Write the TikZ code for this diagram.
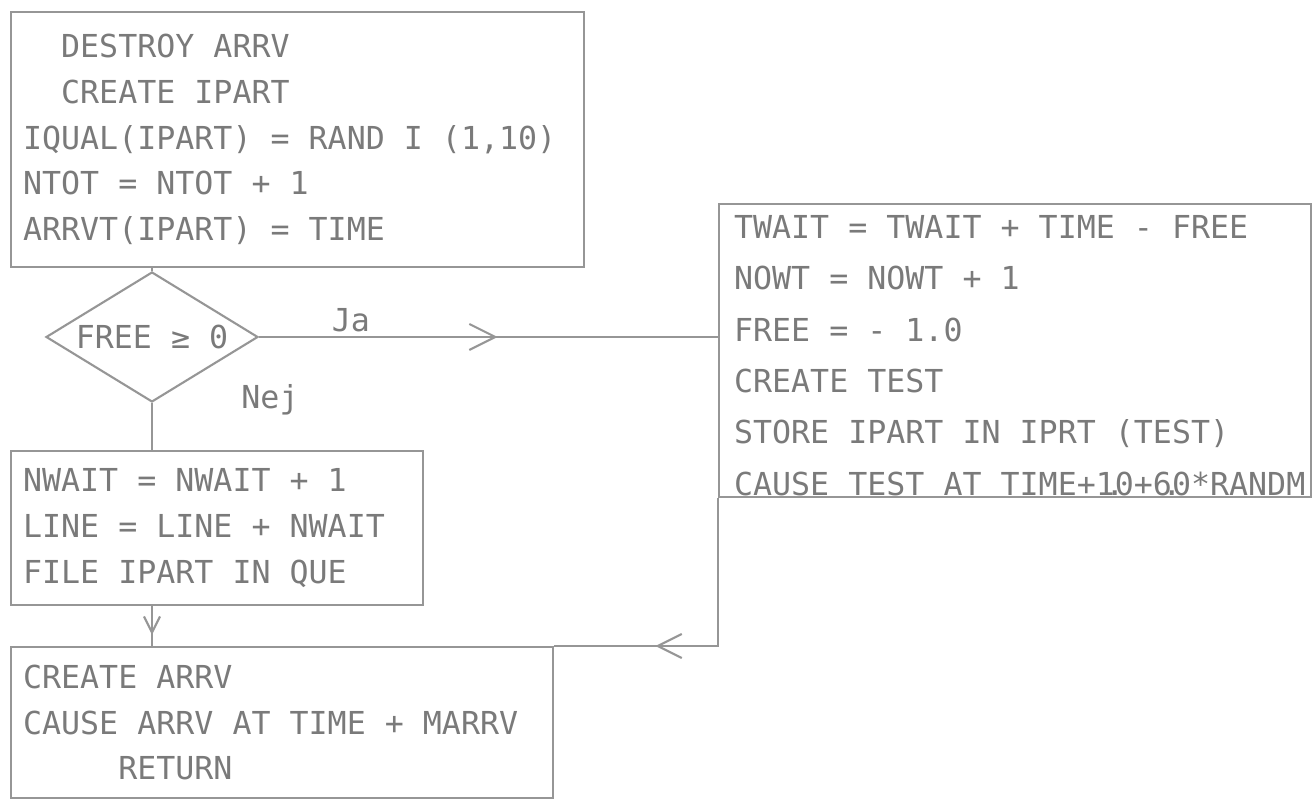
\documentclass[tikz,border=0pt]{standalone}
\usepackage{fontspec,tikz}
\usetikzlibrary{arrows.meta,positioning,shapes.geometric,decorations.markings}
\setmonofont{DejaVu Sans Mono}
\definecolor{Pencil}{HTML}{969696}
\definecolor{Ink}{HTML}{7A7A7A}
\newcommand{\typed}[1]{\ttfamily\fontsize{9}{#1}\selectfont}
\begin{document}
\begin{tikzpicture}[
 block/.style={draw=Pencil,line width=0.6pt,anchor=north west,align=flush left,inner xsep=0.12cm,inner ysep=0pt,text=Ink,font=\typed{13},execute at begin node={\spaceskip=0.602em\xspaceskip=0.602em\relax}},
 decision/.style={diamond,aspect=1.63,draw=Pencil,line width=0.6pt,inner sep=0pt,minimum width=2.12cm,minimum height=1.30cm,text=Ink,font=\typed{13}},
 tag/.style={text=Ink,inner sep=1pt,font=\typed{13}},
 flow/.style={draw=Pencil,line width=0.6pt},
 midarrow/.style 2 args={postaction={decorate},decoration={markings,mark=at position #1 with {\arrow{Straight Barb[length=#2,width=#2,line width=0.6pt,color=Pencil]}}}}]
 \useasboundingbox (0,0) rectangle (13.15,-8.12);
 \node[block,text width=5.49cm,minimum height=2.55cm](destroy) at (0.10,-0.11){\hphantom{XX}DESTROY ARRV\\\hphantom{XX}CREATE IPART\\IQUAL(IPART) = RAND I (1,10)\\NTOT = NTOT + 1\\ARRVT(IPART) = TIME};
 \node[decision](free) at (1.52,-3.37){FREE ≥ 0};
 \node[block,inner xsep=0.15cm,text width=5.62cm,minimum height=2.93cm,font=\typed{14.6}](test) at (7.18,-2.03){\rule{0pt}{0.33cm}TWAIT = TWAIT + TIME - FREE\\NOWT = NOWT + 1\\FREE = - 1.0\\CREATE TEST\\STORE IPART IN IPRT (TEST)\\\makebox[\linewidth][l]{CAUSE TEST AT TIME+1\makebox[0pt]{.}0+6\makebox[0pt]{.}0*RANDM}};
 \node[block,text width=3.88cm,minimum height=1.54cm](nwait) at (0.10,-4.50){NWAIT = NWAIT + 1\\LINE = LINE + NWAIT\\FILE IPART IN QUE};
 \node[block,text width=5.18cm,minimum height=1.51cm](arrv) at (0.10,-6.46){CREATE ARRV\\CAUSE ARRV AT TIME + MARRV\\\hphantom{XXXXX}RETURN};
 \node[tag](nej) at ([xshift=1.18cm,yshift=0.03cm]free.south){Nej};
 \draw[flow](free.north |- destroy.south)--(free.north);
 \draw[flow,midarrow={0.52}{2.6mm}](free.east)--node[tag,pos=0.2,above](ja){Ja}(free.east -| test.west);
 \draw[flow](free.south)--(free.south |- nwait.north);
 \draw[flow,midarrow={0.72}{1.6mm}](free.south |- nwait.south)--(free.south |- arrv.north);
 \draw[flow,midarrow={0.675}{2.4mm}](test.south west)|-(arrv.north east);
\end{tikzpicture}
\end{document}
